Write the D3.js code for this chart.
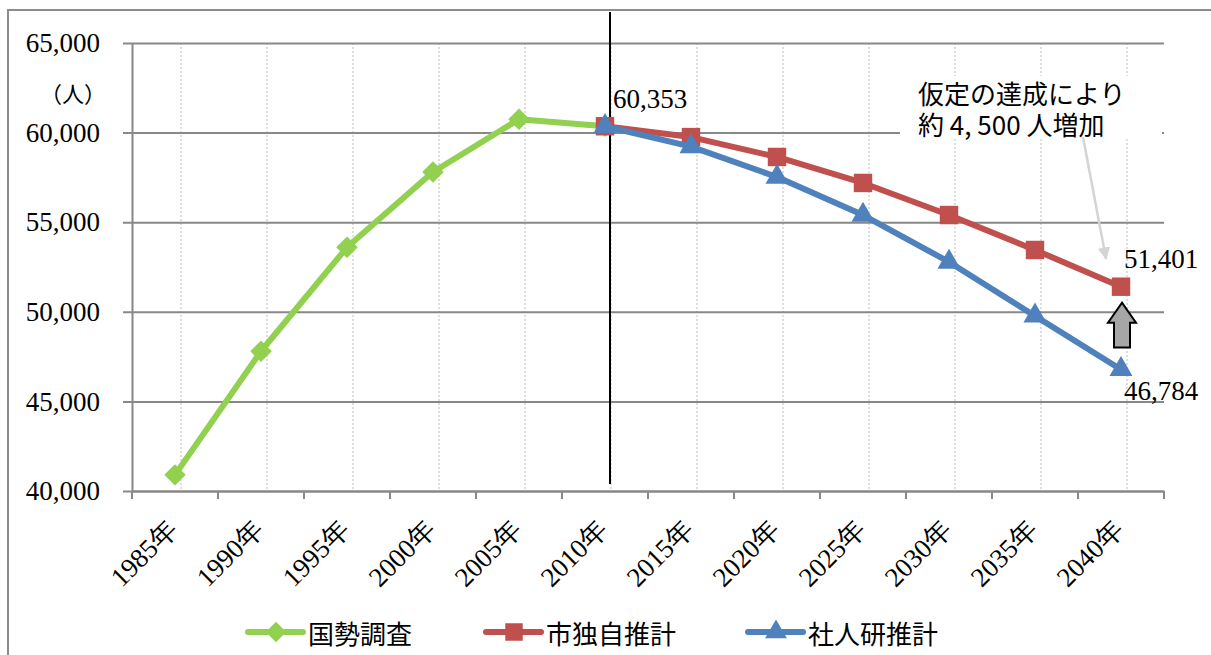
<!DOCTYPE html>
<html lang="ja">

<head>
    <meta charset="UTF-8">
    <script type="text/javascript" src="https://d3js.org/d3.v7.min.js"></script>
    <title>人口推計</title>
    <style>
        body { margin: 0; background: #fff; }
    </style>
</head>

<body>
    <script>
        // Categories and series
        var years = ["1985年", "1990年", "1995年", "2000年", "2005年", "2010年",
            "2015年", "2020年", "2025年", "2030年", "2035年", "2040年"];
        var censusValues = [40900, 47800, 53600, 57800, 60750, 60353,
            null, null, null, null, null, null];
        var cityValues = [null, null, null, null, null, 60353,
            59750, 58640, 57190, 55400, 53450, 51401];
        var ipssValues = [null, null, null, null, null, 60353,
            59220, 57520, 55400, 52780, 49770, 46784];
        var yTicks = [40000, 45000, 50000, 55000, 60000, 65000];
        var seriesNames = ["国勢調査", "市独自推計", "社人研推計"];

        var SERIF = '"Liberation Serif", Tinos, "Times New Roman", "DejaVu Serif", "Noto Serif", serif';
        var SANS = '"Noto Sans CJK JP", sans-serif';

        var width = 1211, height = 655;
        var plotLeft = 132, plotRight = 1164, plotTop = 43, plotBottom = 491;

        var svg = d3.select("body").append("svg")
            .attr("width", width)
            .attr("height", height);

        // outer frame
        svg.append("rect")
            .attr("x", 8).attr("y", 10)
            .attr("width", 1300).attr("height", 700)
            .attr("fill", "none").attr("stroke", "#8c8c8c").attr("stroke-width", 2);

        var x = d3.scaleBand().domain(years).range([plotLeft, plotRight]);
        var y = d3.scaleLinear().domain([40000, 65000]).range([plotBottom, plotTop]);
        var cx = function (d) { return x(d) + x.bandwidth() / 2; };

        // dotted vertical grid
        svg.append("g").selectAll("line")
            .data(years)
            .enter().append("line")
            .attr("x1", function (d) { return cx(d) + 6; })
            .attr("x2", function (d) { return cx(d) + 6; })
            .attr("y1", plotTop).attr("y2", plotBottom)
            .attr("stroke", "#c8c8c8").attr("stroke-width", 1.2)
            .attr("stroke-dasharray", "2,2");

        // y axis with horizontal grid
        var yAxis = svg.append("g")
            .attr("transform", "translate(" + plotLeft + ",0)")
            .call(d3.axisLeft(y).tickValues(yTicks).tickSizeOuter(0)
                .tickFormat(d3.format(",")));
        yAxis.attr("font-family", null);
        yAxis.select(".domain").attr("stroke", "#888").attr("stroke-width", 2);
        yAxis.selectAll(".tick line")
            .attr("x1", -9).attr("x2", plotRight - plotLeft)
            .attr("stroke", "#888").attr("stroke-width", 2);
        yAxis.selectAll(".tick text")
            .attr("x", -32)
            .attr("fill", "#000")
            .attr("font-family", SERIF)
            .style("font-family", SERIF)
            .style("font-size", "27px");

        // unit label
        svg.append("text")
            .attr("x", 106).attr("y", 92)
            .attr("text-anchor", "end")
            .attr("dominant-baseline", "central")
            .style("font-family", SANS)
            .style("font-size", "22px")
            .text("（人）");

        // x axis
        var xAxis = svg.append("g")
            .attr("transform", "translate(0," + plotBottom + ")")
            .call(d3.axisBottom(x).tickSize(0).tickSizeOuter(0));
        xAxis.attr("font-family", null);
        xAxis.select(".domain").attr("stroke", "#888").attr("stroke-width", 2);
        xAxis.selectAll(".tick text")
            .attr("fill", "#000")
            .attr("font-family", SERIF)
            .style("font-family", SERIF)
            .style("font-size", "27px")
            .attr("text-anchor", "end")
            .attr("dy", null)
            .attr("y", null)
            .attr("transform", "translate(4,40) rotate(-45)");
        // boundary ticks
        xAxis.selectAll(".bt")
            .data(years.map(function (d) { return x(d); }).concat([plotRight]))
            .enter().append("line")
            .attr("x1", function (d) { return d; })
            .attr("x2", function (d) { return d; })
            .attr("y1", 0).attr("y2", 8)
            .attr("stroke", "#888").attr("stroke-width", 2);

        // black divider at 2010
        var divX = cx("2010年") + 5;
        svg.append("line")
            .attr("x1", divX).attr("x2", divX)
            .attr("y1", 12).attr("y2", plotBottom - 7)
            .attr("stroke", "#000").attr("stroke-width", 2);

        // annotation text box (white) covering grid
        svg.append("rect")
            .attr("x", 900).attr("y", 76)
            .attr("width", 262).attr("height", 62)
            .attr("fill", "#fff");
        svg.append("text")
            .attr("x", 918).attr("y", 92)
            .attr("dominant-baseline", "central")
            .style("font-family", SANS)
            .style("font-size", "26px")
            .text("仮定の達成により");
        svg.append("text")
            .attr("x", 918).attr("y", 123)
            .attr("dominant-baseline", "central")
            .style("font-family", SANS)
            .style("font-size", "26px")
            .text("約 4, 500 人増加");

        // series
        var line = d3.line()
            .defined(function (d) { return d.v != null; })
            .x(function (d) { return cx(d.year); })
            .y(function (d) { return y(d.v); });

        var series = [
            { name: seriesNames[0], values: censusValues, color: "#92D050", symbol: d3.symbolSquare, size: 230, rot: 45 },
            { name: seriesNames[1], values: cityValues, color: "#C0504D", symbol: d3.symbolSquare, size: 340, rot: 0 },
            { name: seriesNames[2], values: ipssValues, color: "#4F81BD", symbol: d3.symbolTriangle, size: 230, rot: 0 }
        ];

        series.forEach(function (s) {
            var pts = years.map(function (yr, i) { return { year: yr, v: s.values[i] }; });
            svg.append("path")
                .datum(pts)
                .attr("fill", "none")
                .attr("stroke", s.color)
                .attr("stroke-width", 6)
                .attr("stroke-linejoin", "round")
                .attr("d", line);
            svg.append("g").selectAll("path")
                .data(pts.filter(function (d) { return d.v != null; }))
                .enter().append("path")
                .attr("d", d3.symbol().type(s.symbol).size(s.size))
                .attr("transform", function (d) {
                    return "translate(" + cx(d.year) + "," + y(d.v) + ") rotate(" + s.rot + ")";
                })
                .attr("fill", s.color);
        });

        // data labels
        var labels = [
            { year: "2010年", v: 60353, dx: 8, dy: -18 },
            { year: "2040年", v: 51401, dx: 3, dy: -19 },
            { year: "2040年", v: 46784, dx: 3, dy: 31 }
        ];
        svg.append("g").selectAll("text")
            .data(labels)
            .enter().append("text")
            .attr("font-family", SERIF)
            .style("font-family", SERIF)
            .style("font-size", "27px")
            .attr("x", function (d) { return cx(d.year) + d.dx; })
            .attr("y", function (d) { return y(d.v) + d.dy; })
            .text(function (d) { return d3.format(",")(d.v); });

        // callout arrow pointing at 2040 city value
        svg.append("defs").append("marker")
            .attr("id", "head")
            .attr("viewBox", "0 0 10 10")
            .attr("refX", 9).attr("refY", 5)
            .attr("markerWidth", 5).attr("markerHeight", 5)
            .attr("orient", "auto")
            .append("path").attr("d", "M0,0L10,5L0,10z").attr("fill", "#d4d4d4");
        var endX = cx("2040年") - 15, endY = y(51401) - 28;
        svg.append("line")
            .attr("x1", 1083).attr("y1", 137)
            .attr("x2", endX).attr("y2", endY)
            .attr("stroke", "#d4d4d4").attr("stroke-width", 2.5)
            .attr("marker-end", "url(#head)");

        // block up arrow between the two 2040 values
        var ax = cx("2040年") + 1, aTop = y(51401) + 16, aBot = y(46784) - 22;
        var aMid = aTop + 20;
        svg.append("path")
            .attr("d", "M" + ax + "," + aTop +
                "L" + (ax + 14) + "," + aMid +
                "L" + (ax + 8) + "," + aMid +
                "L" + (ax + 8) + "," + aBot +
                "L" + (ax - 8) + "," + aBot +
                "L" + (ax - 8) + "," + aMid +
                "L" + (ax - 14) + "," + aMid + "Z")
            .attr("fill", "#a6a6a6")
            .attr("stroke", "#000").attr("stroke-width", 2);

        // legend
        var legendX = [248, 486, 748];
        var legend = svg.append("g").selectAll("g")
            .data(series)
            .enter().append("g")
            .attr("transform", function (d, i) { return "translate(" + legendX[i] + ",632)"; });
        legend.append("line")
            .attr("x1", 0).attr("x2", 55)
            .attr("stroke", function (d) { return d.color; })
            .attr("stroke-width", 6)
            .attr("stroke-linecap", "round");
        legend.append("path")
            .attr("d", function (d) { return d3.symbol().type(d.symbol).size(d.size * 0.9)(); })
            .attr("transform", function (d) { return "translate(28,0) rotate(" + d.rot + ")"; })
            .attr("fill", function (d) { return d.color; });
        legend.append("text")
            .attr("x", 60)
            .attr("dominant-baseline", "central")
            .style("font-family", SANS)
            .style("font-size", "26px")
            .text(function (d) { return d.name; });
    </script>
</body>

</html>
